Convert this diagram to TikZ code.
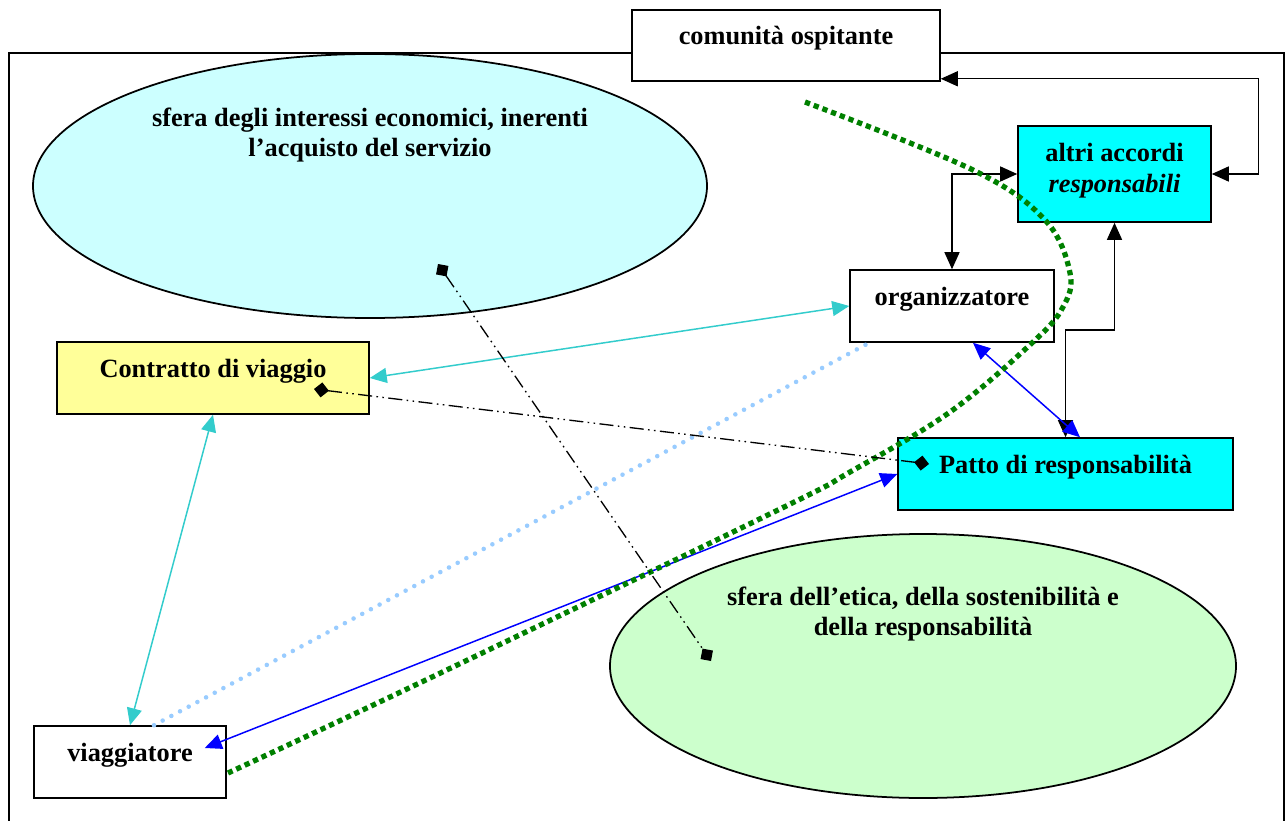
\documentclass[tikz,border=0pt]{standalone}
\usepackage{fontspec}
\setmainfont{Liberation Serif}
\usetikzlibrary{arrows.meta, calc}

\definecolor{econfill}{HTML}{CCFFFF}
\definecolor{eticafill}{HTML}{CCFFCC}
\definecolor{pattofill}{HTML}{00FFFF}
\definecolor{contrfill}{HTML}{FFFF99}
\definecolor{tealline}{HTML}{33CCCC}
\definecolor{skydots}{HTML}{99CCFF}
\definecolor{greendots}{HTML}{008000}

\begin{document}
\begin{tikzpicture}[x=0.02cm, y=-0.02cm,
    >={Triangle[length=0.34cm,width=0.3cm]},
    font=\fontsize{15}{17.5}\selectfont\bfseries]
      \tikzset{box/.style={draw, line width=0.9pt, fill=#1,
          inner sep=0pt, align=center},
        box/.default=white,
        oneline/.style={text height=0.33cm, text depth=0.36cm},
        sphere/.style={draw, line width=1pt, fill=#1},
        plain link/.style={<->, line width=0.75pt},
        teal link/.style={<->, line width=0.85pt, draw=tealline},
        blue link/.style={<->, line width=0.85pt, draw=blue},
        sky dots/.style={draw=skydots, line width=2.6pt, line cap=round,
          dash pattern=on 0pt off 5.6pt},
        green dots/.style={draw=greendots, line width=3pt,
          dash pattern=on 3pt off 2.3pt},
        bond/.style={line width=0.75pt,
          dash pattern=on 8pt off 2.5pt on 0.9pt off 2.5pt on 0.9pt off 2.5pt,
          {Diamond[length=0.3cm,width=0.3cm]}-{Diamond[length=0.3cm,width=0.3cm]}}
      }
      \useasboundingbox (0,0) rectangle (1288,821);
      \draw [line width=1.1pt] (9,821) -- (9,53) -- (1284,53) -- (1284,821);

      % the two spheres
      \draw [sphere=econfill] (370,186) ellipse [x radius=337, y radius=132];
      \draw [sphere=eticafill] (923,666) ellipse [x radius=313, y radius=132];
      \node [align=center] (econtext) at (370,135)
        {sfera degli interessi economici, inerenti\\l’acquisto del servizio};
      \node [align=center] (eticatext) at (923,614)
        {sfera dell’etica, della sostenibilità e\\della responsabilità};

      \node [box, oneline, minimum width=6.16cm, minimum height=1.42cm] (comunita) at (786,45.5) {comunità ospitante};
      \node [box=pattofill, text depth=0.25cm, minimum width=3.86cm, minimum height=1.92cm] (altri) at (1114.5,174)
        {altri accordi\\\textit{responsabili}};
      \node [box, oneline, minimum width=4.08cm, minimum height=1.44cm] (organizz) at (952,306) {organizzatore};
      \node [box=contrfill, oneline, minimum width=6.24cm, minimum height=1.44cm] (contratto) at (213,378) {Contratto di viaggio};
      \node [box=pattofill, oneline, minimum width=6.7cm, minimum height=1.44cm] (patto) at (1065.5,474) {Patto di responsabilità};
      \node [box, oneline, minimum width=3.84cm, minimum height=1.44cm] (viaggiatore) at (130,762) {viaggiatore};

      \coordinate (bend) at (1090,330);
      \draw [plain link] (altri.east) -- ++(47,0) |- ([yshift=0.06cm]comunita.south east);
      \draw [plain link] (organizz.north) |- (altri.west);
      \draw [plain link] (altri.south) |- (bend) -| (patto.north);

      \draw [teal link] (organizz.west) -- (contratto.east);
      \draw [teal link] (contratto.south) -- (viaggiatore.north);
      \draw [blue link] ($(organizz.south)+(21,0)$) -- ($(patto.north)+(14.5,0)$);
      \draw [blue link] (patto.west) -- ($(viaggiatore.east)+(-22,-14)$);
      \draw [sky dots] ($(viaggiatore.north)+(24,0)$) -- ($(organizz.south west)+(20,0)$);

      % boundary between the two spheres
      \draw [green dots] plot [smooth, tension=0.6] coordinates {(805,102) (973,170) (1045,220)
        (1070,273) (1063,307) (1033,342) (950,412) (850,472) (778,510) (430,678) (228,773)};

      \coordinate (econ) at (438,264);
      \coordinate (etica) at (711,661);
      \coordinate (contr) at (314,389);
      \coordinate (resp) at (929,464);
      \draw [bond] (econ) -- (etica);
      \draw [bond] (contr) -- (resp);
    \end{tikzpicture}
\end{document}
